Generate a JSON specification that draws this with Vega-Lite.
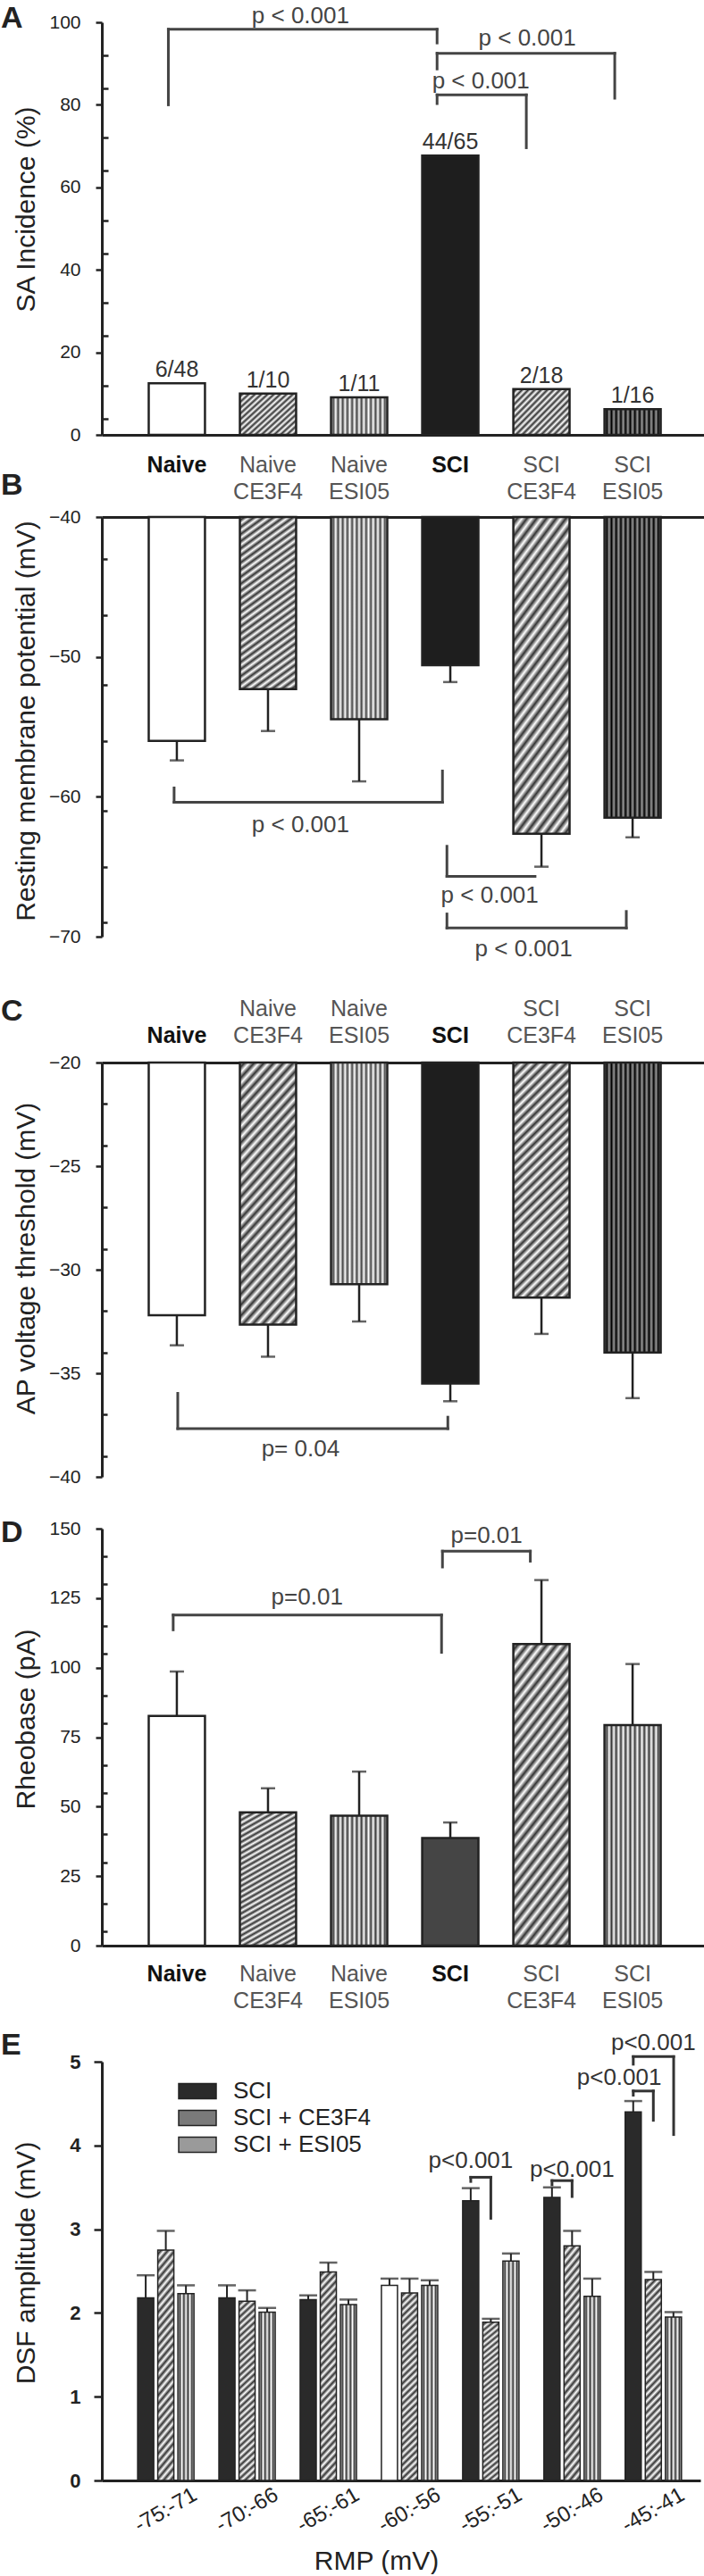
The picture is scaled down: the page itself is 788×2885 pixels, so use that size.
{
"$schema":"https://vega.github.io/schema/vega-lite/v6.json",
"padding":{"top":3,"left":0,"right":0,"bottom":0},
"autosize":{"type":"pad"},
"background":"#ffffff",
"config":{
 "font":"Liberation Sans",
 "view":{"stroke":null},
 "axis":{"grid":false,"domainColor":"#222222","domainWidth":3,"tickColor":"#222222","tickWidth":2.5,"labelFont":"Liberation Sans","labelFontSize":21,"labelColor":"#222222","titleFont":"Liberation Sans","titleFontSize":30,"titleFontWeight":"normal","titleColor":"#222222","labelOverlap":false,"labelFlush":false,"labelBound":false},
 "text":{"font":"Liberation Sans"}
},
"datasets":{
 "a":[{"group":"Naive","value":12.5,"frac":"6/48"},{"group":"Naive CE3F4","value":10,"frac":"1/10"},{"group":"Naive ESI05","value":9.09,"frac":"1/11"},{"group":"SCI","value":67.7,"frac":"44/65"},{"group":"SCI CE3F4","value":11.1,"frac":"2/18"},{"group":"SCI ESI05","value":6.25,"frac":"1/16"}],
 "b":[{"group":"Naive","value":-56.0,"err":-57.4},{"group":"Naive CE3F4","value":-52.3,"err":-55.3},{"group":"Naive ESI05","value":-54.45,"err":-58.9},{"group":"SCI","value":-50.6,"err":-51.8},{"group":"SCI CE3F4","value":-62.65,"err":-65.0},{"group":"SCI ESI05","value":-61.5,"err":-62.9}],
 "c":[{"group":"Naive","value":-32.2,"err":-33.65},{"group":"Naive CE3F4","value":-32.65,"err":-34.2},{"group":"Naive ESI05","value":-30.7,"err":-32.5},{"group":"SCI","value":-35.5,"err":-36.35},{"group":"SCI CE3F4","value":-31.35,"err":-33.1},{"group":"SCI ESI05","value":-34.0,"err":-36.2}],
 "d":[{"group":"Naive","value":82.6,"err":98.6},{"group":"Naive CE3F4","value":47.9,"err":56.6},{"group":"Naive ESI05","value":46.7,"err":62.6},{"group":"SCI","value":38.7,"err":44.3},{"group":"SCI CE3F4","value":108.5,"err":131.5},{"group":"SCI ESI05","value":79.3,"err":101.3}],
 "e":[
  {"rmp":"-75:-71","series":"SCI","value":2.18,"err":2.45},
  {"rmp":"-75:-71","series":"SCI + CE3F4","value":2.75,"err":2.98},
  {"rmp":"-75:-71","series":"SCI + ESI05","value":2.23,"err":2.33},
  {"rmp":"-70:-66","series":"SCI","value":2.18,"err":2.33},
  {"rmp":"-70:-66","series":"SCI + CE3F4","value":2.14,"err":2.27},
  {"rmp":"-70:-66","series":"SCI + ESI05","value":2.01,"err":2.06},
  {"rmp":"-65:-61","series":"SCI","value":2.16,"err":2.21},
  {"rmp":"-65:-61","series":"SCI + CE3F4","value":2.49,"err":2.6},
  {"rmp":"-65:-61","series":"SCI + ESI05","value":2.1,"err":2.16},
  {"rmp":"-60:-56","series":"SCI","value":2.33,"err":2.41},
  {"rmp":"-60:-56","series":"SCI + CE3F4","value":2.24,"err":2.41},
  {"rmp":"-60:-56","series":"SCI + ESI05","value":2.33,"err":2.39},
  {"rmp":"-55:-51","series":"SCI","value":3.34,"err":3.49},
  {"rmp":"-55:-51","series":"SCI + CE3F4","value":1.89,"err":1.93},
  {"rmp":"-55:-51","series":"SCI + ESI05","value":2.62,"err":2.71},
  {"rmp":"-50:-46","series":"SCI","value":3.38,"err":3.5},
  {"rmp":"-50:-46","series":"SCI + CE3F4","value":2.8,"err":2.98},
  {"rmp":"-50:-46","series":"SCI + ESI05","value":2.2,"err":2.41},
  {"rmp":"-45:-41","series":"SCI","value":4.4,"err":4.53},
  {"rmp":"-45:-41","series":"SCI + CE3F4","value":2.4,"err":2.49},
  {"rmp":"-45:-41","series":"SCI + ESI05","value":1.95,"err":2.01}
 ],
 "annA":[{"xa":0.907,"xb":3.855,"yh":98.3,"ya":80,"yb":95,"label":"p < 0.001","tx":2.357,"ty":99.8},{"xa":3.855,"xb":5.804,"yh":92.5,"ya":88.7,"yb":81.6,"label":"p < 0.001","tx":4.844,"ty":94.4},{"xa":3.855,"xb":4.834,"yh":82.4,"ya":80.3,"yb":69.6,"label":"p < 0.001","tx":4.335,"ty":83.9},{"letter":"A","lx":-0.93,"ly":104.6}],
 "annB":[{"xa":0.97,"xb":3.914,"yh":-60.39,"ya":-59.37,"yb":-58.16,"label":"p < 0.001","tx":2.357,"ty":-62.55},{"xa":3.963,"xb":4.928,"yh":-65.69,"ya":-63.54,"yb":-65.69,"label":"p < 0.001","tx":4.433,"ty":-67.58},{"xa":3.963,"xb":5.931,"yh":-69.38,"ya":-68.38,"yb":-68.2,"label":"p < 0.001","tx":4.805,"ty":-71.42},{"letter":"B","lx":-0.93,"ly":-36.65}],
 "annC":[{"xa":1.01,"xb":3.973,"yh":-37.67,"ya":-35.97,"yb":-37.12,"label":"p= 0.04","tx":2.357,"ty":-38.99},{"letter":"C","lx":-0.93,"ly":-16.83}],
 "annD":[{"xa":0.96,"xb":3.904,"yh":118.9,"ya":113.6,"yb":105.5,"label":"p=0.01","tx":2.429,"ty":122.8},{"xa":3.914,"xb":4.878,"yh":141.9,"ya":136.2,"yb":138.3,"label":"p=0.01","tx":4.398,"ty":144.9},{"letter":"D","lx":-0.93,"ly":154.0}],
 "annE":[{"xa":4.753,"xb":5.0,"yh":3.62,"ya":3.57,"yb":3.13,"label":"p<0.001","tx":4.753,"ty":3.73},{"xa":5.753,"xb":6.0,"yh":3.58,"ya":3.53,"yb":3.39,"label":"p<0.001","tx":6.0,"ty":3.63},{"xa":6.753,"xb":7.0,"yh":4.65,"ya":4.6,"yb":4.3,"label":"p<0.001","tx":6.58,"ty":4.72},{"xa":6.753,"xb":7.25,"yh":5.06,"ya":4.97,"yb":4.13,"label":"p<0.001","tx":7.0,"ty":5.14},{"letter":"E","lx":-1.03,"ly":5.368}]
},
"vconcat":[
 {
  "width":674,"height":462,
  "layer":[
   {"data":{"name":"a"},"layer":[
    {"mark":{"type":"bar","stroke":"#222222","strokeWidth":2.5},
     "encoding":{
      "x":{"field":"group","type":"nominal","sort":null,"scale":{"paddingInner":0.383,"paddingOuter":0.4946,"align":0.52},
           "axis":{"title":null,"orient":"bottom","ticks":false,"tickSize":0,"domain":true,"labelExpr":"split(datum.label, ' ')","labelFontSize":25,"labelLineHeight":30,"labelBaseline":"alphabetic","labelPadding":41,"labelAngle":0,"labelOverlap":false,
                   "labelFontWeight":{"condition":{"test":"indexof(datum.value, ' ') < 0","value":"bold"},"value":"normal"},
                   "labelColor":{"condition":{"test":"indexof(datum.value, ' ') < 0","value":"#111111"},"value":"#555555"}}},
      "y":{"field":"value","type":"quantitative","scale":{"domain":[0,100],"nice":false,"zero":false},
           "axis":{"title":"SA Incidence  (%)","orient":"left","values":[0,20,40,60,80,100],"format":"d","labelOverlap":false,"tickSize":7,"labelPadding":17,"titleX":-76,"titleY":209,"titleBaseline":"alphabetic"}},
      "fill":{"condition":[
        {"test":"indexof(datum.group, 'CE3F4') >= 0","value":{"gradient":"linear","x1":0,"y1":0,"x2":1.098,"y2":0.878,"stops":[{"offset":0,"color":"#ffffff"},{"offset":0.0313,"color":"#333333"},{"offset":0.0625,"color":"#ffffff"},{"offset":0.0938,"color":"#333333"},{"offset":0.125,"color":"#ffffff"},{"offset":0.1563,"color":"#333333"},{"offset":0.1875,"color":"#ffffff"},{"offset":0.2188,"color":"#333333"},{"offset":0.25,"color":"#ffffff"},{"offset":0.2813,"color":"#333333"},{"offset":0.3125,"color":"#ffffff"},{"offset":0.3438,"color":"#333333"},{"offset":0.375,"color":"#ffffff"},{"offset":0.4063,"color":"#333333"},{"offset":0.4375,"color":"#ffffff"},{"offset":0.4688,"color":"#333333"},{"offset":0.5,"color":"#ffffff"},{"offset":0.5313,"color":"#333333"},{"offset":0.5625,"color":"#ffffff"},{"offset":0.5938,"color":"#333333"},{"offset":0.625,"color":"#ffffff"},{"offset":0.6563,"color":"#333333"},{"offset":0.6875,"color":"#ffffff"},{"offset":0.7188,"color":"#333333"},{"offset":0.75,"color":"#ffffff"},{"offset":0.7813,"color":"#333333"},{"offset":0.8125,"color":"#ffffff"},{"offset":0.8438,"color":"#333333"},{"offset":0.875,"color":"#ffffff"},{"offset":0.9063,"color":"#333333"},{"offset":0.9375,"color":"#ffffff"},{"offset":0.9688,"color":"#333333"},{"offset":1,"color":"#ffffff"}]}},
        {"test":"datum.group === 'Naive ESI05'","value":{"gradient":"linear","x1":0,"y1":0,"x2":1,"y2":0,"stops":[{"offset":0,"color":"#ffffff"},{"offset":0.0417,"color":"#444444"},{"offset":0.0833,"color":"#ffffff"},{"offset":0.125,"color":"#444444"},{"offset":0.1667,"color":"#ffffff"},{"offset":0.2083,"color":"#444444"},{"offset":0.25,"color":"#ffffff"},{"offset":0.2917,"color":"#444444"},{"offset":0.3333,"color":"#ffffff"},{"offset":0.375,"color":"#444444"},{"offset":0.4167,"color":"#ffffff"},{"offset":0.4583,"color":"#444444"},{"offset":0.5,"color":"#ffffff"},{"offset":0.5417,"color":"#444444"},{"offset":0.5833,"color":"#ffffff"},{"offset":0.625,"color":"#444444"},{"offset":0.6667,"color":"#ffffff"},{"offset":0.7083,"color":"#444444"},{"offset":0.75,"color":"#ffffff"},{"offset":0.7917,"color":"#444444"},{"offset":0.8333,"color":"#ffffff"},{"offset":0.875,"color":"#444444"},{"offset":0.9167,"color":"#ffffff"},{"offset":0.9583,"color":"#444444"},{"offset":1,"color":"#ffffff"}]}},
        {"test":"datum.group === 'SCI ESI05'","value":{"gradient":"linear","x1":0,"y1":0,"x2":1,"y2":0,"stops":[{"offset":0,"color":"#999999"},{"offset":0.0417,"color":"#000000"},{"offset":0.0833,"color":"#999999"},{"offset":0.125,"color":"#000000"},{"offset":0.1667,"color":"#999999"},{"offset":0.2083,"color":"#000000"},{"offset":0.25,"color":"#999999"},{"offset":0.2917,"color":"#000000"},{"offset":0.3333,"color":"#999999"},{"offset":0.375,"color":"#000000"},{"offset":0.4167,"color":"#999999"},{"offset":0.4583,"color":"#000000"},{"offset":0.5,"color":"#999999"},{"offset":0.5417,"color":"#000000"},{"offset":0.5833,"color":"#999999"},{"offset":0.625,"color":"#000000"},{"offset":0.6667,"color":"#999999"},{"offset":0.7083,"color":"#000000"},{"offset":0.75,"color":"#999999"},{"offset":0.7917,"color":"#000000"},{"offset":0.8333,"color":"#999999"},{"offset":0.875,"color":"#000000"},{"offset":0.9167,"color":"#999999"},{"offset":0.9583,"color":"#000000"},{"offset":1,"color":"#999999"}]}},
        {"test":"datum.group === 'SCI'","value":"#1e1e1e"}
       ],"value":"#ffffff"}
     }},
    {"mark":{"type":"text","dy":-7,"fontSize":25,"color":"#333333","baseline":"alphabetic"},
     "encoding":{"x":{"field":"group","type":"nominal","sort":null},"y":{"field":"value","type":"quantitative"},"text":{"field":"frac"}}}
   ]},
   {"data":{"name":"annA"},"layer":[
    {"mark":{"type":"rule","stroke":"#444444","strokeWidth":3,"strokeCap":"square"},"encoding":{"x":{"field":"xa","type":"quantitative","scale":{"domain":[0.1773,6.7833],"nice":false,"zero":false},"axis":null},"x2":{"field":"xb"},"y":{"field":"yh","type":"quantitative","axis":{"orient":"left","title":null,"labels":false,"domain":false,"grid":false,"tickSize":-7,"values":[4,8,12,16,24,28,32,36,44,48,52,56,64,68,72,76,84,88,92,96]}}}},
    {"mark":{"type":"rule","stroke":"#444444","strokeWidth":3,"strokeCap":"square"},"encoding":{"x":{"field":"xa","type":"quantitative","scale":{"domain":[0.1773,6.7833],"nice":false,"zero":false},"axis":null},"y":{"field":"yh","type":"quantitative"},"y2":{"field":"ya"}}},
    {"mark":{"type":"rule","stroke":"#444444","strokeWidth":3,"strokeCap":"square"},"encoding":{"x":{"field":"xb","type":"quantitative","scale":{"domain":[0.1773,6.7833],"nice":false,"zero":false},"axis":null},"y":{"field":"yh","type":"quantitative"},"y2":{"field":"yb"}}},
    {"mark":{"type":"text","fontSize":26,"color":"#444444","baseline":"alphabetic","align":"center"},"encoding":{"x":{"field":"tx","type":"quantitative","scale":{"domain":[0.1773,6.7833],"nice":false,"zero":false},"axis":null},"y":{"field":"ty","type":"quantitative"},"text":{"field":"label"}}},
    {"mark":{"type":"text","fontSize":34,"fontWeight":"bold","color":"#222222","baseline":"top","align":"left"},"encoding":{"x":{"field":"lx","type":"quantitative","scale":{"domain":[0.1773,6.7833],"nice":false,"zero":false},"axis":null},"y":{"field":"ly","type":"quantitative"},"text":{"field":"letter"}}}
   ]}
  ],
  "resolve":{"scale":{"x":"independent"},"axis":{"y":"independent"}}
 },
 {
  "vconcat":[
   {
    "width":674,"height":470,
    "layer":[
     {"data":{"name":"b"},"layer":[
      {"mark":{"type":"bar","stroke":"#222222","strokeWidth":2.5},
       "encoding":{
        "x":{"field":"group","type":"nominal","sort":null,"scale":{"paddingInner":0.383,"paddingOuter":0.4946,"align":0.52},
             "axis":{"title":null,"orient":"top","ticks":false,"tickSize":0,"labels":false,"domain":true}},
        "y":{"field":"value","type":"quantitative","scale":{"domain":[-70,-40],"nice":false,"zero":false},
             "axis":{"title":"Resting membrane potential (mV)","orient":"left","values":[-70,-60,-50,-40],"format":"d","labelOverlap":false,"tickSize":7,"labelPadding":17,"titleX":-76,"titleY":228,"titleBaseline":"alphabetic"}},
        "y2":{"datum":-40},
        "fill":{"condition":[
          {"test":"indexof(datum.group, 'CE3F4') >= 0","value":{"gradient":"linear","x1":0,"y1":0,"x2":0.279,"y2":1.172,"stops":[{"offset":0,"color":"#ffffff"},{"offset":0.0167,"color":"#333333"},{"offset":0.0333,"color":"#ffffff"},{"offset":0.05,"color":"#333333"},{"offset":0.0667,"color":"#ffffff"},{"offset":0.0833,"color":"#333333"},{"offset":0.1,"color":"#ffffff"},{"offset":0.1167,"color":"#333333"},{"offset":0.1333,"color":"#ffffff"},{"offset":0.15,"color":"#333333"},{"offset":0.1667,"color":"#ffffff"},{"offset":0.1833,"color":"#333333"},{"offset":0.2,"color":"#ffffff"},{"offset":0.2167,"color":"#333333"},{"offset":0.2333,"color":"#ffffff"},{"offset":0.25,"color":"#333333"},{"offset":0.2667,"color":"#ffffff"},{"offset":0.2833,"color":"#333333"},{"offset":0.3,"color":"#ffffff"},{"offset":0.3167,"color":"#333333"},{"offset":0.3333,"color":"#ffffff"},{"offset":0.35,"color":"#333333"},{"offset":0.3667,"color":"#ffffff"},{"offset":0.3833,"color":"#333333"},{"offset":0.4,"color":"#ffffff"},{"offset":0.4167,"color":"#333333"},{"offset":0.4333,"color":"#ffffff"},{"offset":0.45,"color":"#333333"},{"offset":0.4667,"color":"#ffffff"},{"offset":0.4833,"color":"#333333"},{"offset":0.5,"color":"#ffffff"},{"offset":0.5167,"color":"#333333"},{"offset":0.5333,"color":"#ffffff"},{"offset":0.55,"color":"#333333"},{"offset":0.5667,"color":"#ffffff"},{"offset":0.5833,"color":"#333333"},{"offset":0.6,"color":"#ffffff"},{"offset":0.6167,"color":"#333333"},{"offset":0.6333,"color":"#ffffff"},{"offset":0.65,"color":"#333333"},{"offset":0.6667,"color":"#ffffff"},{"offset":0.6833,"color":"#333333"},{"offset":0.7,"color":"#ffffff"},{"offset":0.7167,"color":"#333333"},{"offset":0.7333,"color":"#ffffff"},{"offset":0.75,"color":"#333333"},{"offset":0.7667,"color":"#ffffff"},{"offset":0.7833,"color":"#333333"},{"offset":0.8,"color":"#ffffff"},{"offset":0.8167,"color":"#333333"},{"offset":0.8333,"color":"#ffffff"},{"offset":0.85,"color":"#333333"},{"offset":0.8667,"color":"#ffffff"},{"offset":0.8833,"color":"#333333"},{"offset":0.9,"color":"#ffffff"},{"offset":0.9167,"color":"#333333"},{"offset":0.9333,"color":"#ffffff"},{"offset":0.95,"color":"#333333"},{"offset":0.9667,"color":"#ffffff"},{"offset":0.9833,"color":"#333333"},{"offset":1,"color":"#ffffff"}]}},
          {"test":"datum.group === 'Naive ESI05'","value":{"gradient":"linear","x1":0,"y1":0,"x2":1,"y2":0,"stops":[{"offset":0,"color":"#ffffff"},{"offset":0.0417,"color":"#444444"},{"offset":0.0833,"color":"#ffffff"},{"offset":0.125,"color":"#444444"},{"offset":0.1667,"color":"#ffffff"},{"offset":0.2083,"color":"#444444"},{"offset":0.25,"color":"#ffffff"},{"offset":0.2917,"color":"#444444"},{"offset":0.3333,"color":"#ffffff"},{"offset":0.375,"color":"#444444"},{"offset":0.4167,"color":"#ffffff"},{"offset":0.4583,"color":"#444444"},{"offset":0.5,"color":"#ffffff"},{"offset":0.5417,"color":"#444444"},{"offset":0.5833,"color":"#ffffff"},{"offset":0.625,"color":"#444444"},{"offset":0.6667,"color":"#ffffff"},{"offset":0.7083,"color":"#444444"},{"offset":0.75,"color":"#ffffff"},{"offset":0.7917,"color":"#444444"},{"offset":0.8333,"color":"#ffffff"},{"offset":0.875,"color":"#444444"},{"offset":0.9167,"color":"#ffffff"},{"offset":0.9583,"color":"#444444"},{"offset":1,"color":"#ffffff"}]}},
          {"test":"datum.group === 'SCI ESI05'","value":{"gradient":"linear","x1":0,"y1":0,"x2":1,"y2":0,"stops":[{"offset":0,"color":"#999999"},{"offset":0.0417,"color":"#000000"},{"offset":0.0833,"color":"#999999"},{"offset":0.125,"color":"#000000"},{"offset":0.1667,"color":"#999999"},{"offset":0.2083,"color":"#000000"},{"offset":0.25,"color":"#999999"},{"offset":0.2917,"color":"#000000"},{"offset":0.3333,"color":"#999999"},{"offset":0.375,"color":"#000000"},{"offset":0.4167,"color":"#999999"},{"offset":0.4583,"color":"#000000"},{"offset":0.5,"color":"#999999"},{"offset":0.5417,"color":"#000000"},{"offset":0.5833,"color":"#999999"},{"offset":0.625,"color":"#000000"},{"offset":0.6667,"color":"#999999"},{"offset":0.7083,"color":"#000000"},{"offset":0.75,"color":"#999999"},{"offset":0.7917,"color":"#000000"},{"offset":0.8333,"color":"#999999"},{"offset":0.875,"color":"#000000"},{"offset":0.9167,"color":"#999999"},{"offset":0.9583,"color":"#000000"},{"offset":1,"color":"#999999"}]}},
          {"test":"datum.group === 'SCI'","value":"#1e1e1e"}
         ],"value":"#ffffff"}
       }},
      {"mark":{"type":"rule","stroke":"#222222","strokeWidth":2.5},"encoding":{"x":{"field":"group","type":"nominal","sort":null},"y":{"field":"value","type":"quantitative"},"y2":{"field":"err"}}},
      {"mark":{"type":"tick","color":"#222222","size":16,"thickness":2.5,"orient":"horizontal"},"encoding":{"x":{"field":"group","type":"nominal","sort":null},"y":{"field":"err","type":"quantitative"}}}
     ]},
     {"data":{"name":"annB"},"layer":[
      {"mark":{"type":"rule","stroke":"#444444","strokeWidth":3,"strokeCap":"square"},"encoding":{"x":{"field":"xa","type":"quantitative","scale":{"domain":[0.1773,6.7833],"nice":false,"zero":false},"axis":null},"x2":{"field":"xb"},"y":{"field":"yh","type":"quantitative","axis":{"orient":"left","title":null,"labels":false,"domain":false,"grid":false,"tickSize":-6,"values":[-69,-68,-67,-66,-65,-64,-63,-62,-61,-59,-58,-57,-56,-55,-54,-53,-52,-51,-49,-48,-47,-46,-45,-44,-43,-42,-41]}}}},
      {"mark":{"type":"rule","stroke":"#444444","strokeWidth":3,"strokeCap":"square"},"encoding":{"x":{"field":"xa","type":"quantitative","scale":{"domain":[0.1773,6.7833],"nice":false,"zero":false},"axis":null},"y":{"field":"yh","type":"quantitative"},"y2":{"field":"ya"}}},
      {"mark":{"type":"rule","stroke":"#444444","strokeWidth":3,"strokeCap":"square"},"encoding":{"x":{"field":"xb","type":"quantitative","scale":{"domain":[0.1773,6.7833],"nice":false,"zero":false},"axis":null},"y":{"field":"yh","type":"quantitative"},"y2":{"field":"yb"}}},
      {"mark":{"type":"text","fontSize":26,"color":"#444444","baseline":"alphabetic","align":"center"},"encoding":{"x":{"field":"tx","type":"quantitative","scale":{"domain":[0.1773,6.7833],"nice":false,"zero":false},"axis":null},"y":{"field":"ty","type":"quantitative"},"text":{"field":"label"}}},
      {"mark":{"type":"text","fontSize":34,"fontWeight":"bold","color":"#222222","baseline":"top","align":"left"},"encoding":{"x":{"field":"lx","type":"quantitative","scale":{"domain":[0.1773,6.7833],"nice":false,"zero":false},"axis":null},"y":{"field":"ly","type":"quantitative"},"text":{"field":"letter"}}}
     ]}
    ],
    "resolve":{"scale":{"x":"independent"},"axis":{"y":"independent"}}
   },
   {
    "vconcat":[
     {
      "width":674,"height":464,
      "layer":[
       {"data":{"name":"c"},"layer":[
        {"mark":{"type":"bar","stroke":"#222222","strokeWidth":2.5},
         "encoding":{
          "x":{"field":"group","type":"nominal","sort":null,"scale":{"paddingInner":0.383,"paddingOuter":0.4946,"align":0.52},
               "axis":{"title":null,"orient":"top","ticks":false,"tickSize":0,"domain":true,"labelExpr":"indexof(datum.label, ' ') < 0 ? ['', datum.label] : split(datum.label, ' ')","labelFontSize":25,"labelLineHeight":30,"labelBaseline":"alphabetic","labelPadding":53,"labelAngle":0,"labelOverlap":false,
                       "labelFontWeight":{"condition":{"test":"indexof(datum.value, ' ') < 0","value":"bold"},"value":"normal"},
                       "labelColor":{"condition":{"test":"indexof(datum.value, ' ') < 0","value":"#111111"},"value":"#555555"}}},
          "y":{"field":"value","type":"quantitative","scale":{"domain":[-40,-20],"nice":false,"zero":false},
               "axis":{"title":"AP voltage threshold (mV)","orient":"left","values":[-40,-35,-30,-25,-20],"format":"d","labelOverlap":false,"tickSize":7,"labelPadding":17,"titleX":-76,"titleY":219,"titleBaseline":"alphabetic"}},
          "y2":{"datum":-20},
          "fill":{"condition":[
            {"test":"indexof(datum.group, 'CE3F4') >= 0","value":{"gradient":"linear","x1":0,"y1":0,"x2":0.279,"y2":1.172,"stops":[{"offset":0,"color":"#ffffff"},{"offset":0.0167,"color":"#333333"},{"offset":0.0333,"color":"#ffffff"},{"offset":0.05,"color":"#333333"},{"offset":0.0667,"color":"#ffffff"},{"offset":0.0833,"color":"#333333"},{"offset":0.1,"color":"#ffffff"},{"offset":0.1167,"color":"#333333"},{"offset":0.1333,"color":"#ffffff"},{"offset":0.15,"color":"#333333"},{"offset":0.1667,"color":"#ffffff"},{"offset":0.1833,"color":"#333333"},{"offset":0.2,"color":"#ffffff"},{"offset":0.2167,"color":"#333333"},{"offset":0.2333,"color":"#ffffff"},{"offset":0.25,"color":"#333333"},{"offset":0.2667,"color":"#ffffff"},{"offset":0.2833,"color":"#333333"},{"offset":0.3,"color":"#ffffff"},{"offset":0.3167,"color":"#333333"},{"offset":0.3333,"color":"#ffffff"},{"offset":0.35,"color":"#333333"},{"offset":0.3667,"color":"#ffffff"},{"offset":0.3833,"color":"#333333"},{"offset":0.4,"color":"#ffffff"},{"offset":0.4167,"color":"#333333"},{"offset":0.4333,"color":"#ffffff"},{"offset":0.45,"color":"#333333"},{"offset":0.4667,"color":"#ffffff"},{"offset":0.4833,"color":"#333333"},{"offset":0.5,"color":"#ffffff"},{"offset":0.5167,"color":"#333333"},{"offset":0.5333,"color":"#ffffff"},{"offset":0.55,"color":"#333333"},{"offset":0.5667,"color":"#ffffff"},{"offset":0.5833,"color":"#333333"},{"offset":0.6,"color":"#ffffff"},{"offset":0.6167,"color":"#333333"},{"offset":0.6333,"color":"#ffffff"},{"offset":0.65,"color":"#333333"},{"offset":0.6667,"color":"#ffffff"},{"offset":0.6833,"color":"#333333"},{"offset":0.7,"color":"#ffffff"},{"offset":0.7167,"color":"#333333"},{"offset":0.7333,"color":"#ffffff"},{"offset":0.75,"color":"#333333"},{"offset":0.7667,"color":"#ffffff"},{"offset":0.7833,"color":"#333333"},{"offset":0.8,"color":"#ffffff"},{"offset":0.8167,"color":"#333333"},{"offset":0.8333,"color":"#ffffff"},{"offset":0.85,"color":"#333333"},{"offset":0.8667,"color":"#ffffff"},{"offset":0.8833,"color":"#333333"},{"offset":0.9,"color":"#ffffff"},{"offset":0.9167,"color":"#333333"},{"offset":0.9333,"color":"#ffffff"},{"offset":0.95,"color":"#333333"},{"offset":0.9667,"color":"#ffffff"},{"offset":0.9833,"color":"#333333"},{"offset":1,"color":"#ffffff"}]}},
            {"test":"datum.group === 'Naive ESI05'","value":{"gradient":"linear","x1":0,"y1":0,"x2":1,"y2":0,"stops":[{"offset":0,"color":"#ffffff"},{"offset":0.0417,"color":"#444444"},{"offset":0.0833,"color":"#ffffff"},{"offset":0.125,"color":"#444444"},{"offset":0.1667,"color":"#ffffff"},{"offset":0.2083,"color":"#444444"},{"offset":0.25,"color":"#ffffff"},{"offset":0.2917,"color":"#444444"},{"offset":0.3333,"color":"#ffffff"},{"offset":0.375,"color":"#444444"},{"offset":0.4167,"color":"#ffffff"},{"offset":0.4583,"color":"#444444"},{"offset":0.5,"color":"#ffffff"},{"offset":0.5417,"color":"#444444"},{"offset":0.5833,"color":"#ffffff"},{"offset":0.625,"color":"#444444"},{"offset":0.6667,"color":"#ffffff"},{"offset":0.7083,"color":"#444444"},{"offset":0.75,"color":"#ffffff"},{"offset":0.7917,"color":"#444444"},{"offset":0.8333,"color":"#ffffff"},{"offset":0.875,"color":"#444444"},{"offset":0.9167,"color":"#ffffff"},{"offset":0.9583,"color":"#444444"},{"offset":1,"color":"#ffffff"}]}},
            {"test":"datum.group === 'SCI ESI05'","value":{"gradient":"linear","x1":0,"y1":0,"x2":1,"y2":0,"stops":[{"offset":0,"color":"#999999"},{"offset":0.0417,"color":"#000000"},{"offset":0.0833,"color":"#999999"},{"offset":0.125,"color":"#000000"},{"offset":0.1667,"color":"#999999"},{"offset":0.2083,"color":"#000000"},{"offset":0.25,"color":"#999999"},{"offset":0.2917,"color":"#000000"},{"offset":0.3333,"color":"#999999"},{"offset":0.375,"color":"#000000"},{"offset":0.4167,"color":"#999999"},{"offset":0.4583,"color":"#000000"},{"offset":0.5,"color":"#999999"},{"offset":0.5417,"color":"#000000"},{"offset":0.5833,"color":"#999999"},{"offset":0.625,"color":"#000000"},{"offset":0.6667,"color":"#999999"},{"offset":0.7083,"color":"#000000"},{"offset":0.75,"color":"#999999"},{"offset":0.7917,"color":"#000000"},{"offset":0.8333,"color":"#999999"},{"offset":0.875,"color":"#000000"},{"offset":0.9167,"color":"#999999"},{"offset":0.9583,"color":"#000000"},{"offset":1,"color":"#999999"}]}},
            {"test":"datum.group === 'SCI'","value":"#1e1e1e"}
           ],"value":"#ffffff"}
         }},
        {"mark":{"type":"rule","stroke":"#222222","strokeWidth":2.5},"encoding":{"x":{"field":"group","type":"nominal","sort":null},"y":{"field":"value","type":"quantitative"},"y2":{"field":"err"}}},
        {"mark":{"type":"tick","color":"#222222","size":16,"thickness":2.5,"orient":"horizontal"},"encoding":{"x":{"field":"group","type":"nominal","sort":null},"y":{"field":"err","type":"quantitative"}}}
       ]},
       {"data":{"name":"annC"},"layer":[
        {"mark":{"type":"rule","stroke":"#444444","strokeWidth":3,"strokeCap":"square"},"encoding":{"x":{"field":"xa","type":"quantitative","scale":{"domain":[0.1773,6.7833],"nice":false,"zero":false},"axis":null},"x2":{"field":"xb"},"y":{"field":"yh","type":"quantitative","axis":{"orient":"left","title":null,"labels":false,"domain":false,"grid":false,"tickSize":-6,"values":[-39,-38,-37,-36,-34,-33,-32,-31,-29,-28,-27,-26,-24,-23,-22,-21]}}}},
        {"mark":{"type":"rule","stroke":"#444444","strokeWidth":3,"strokeCap":"square"},"encoding":{"x":{"field":"xa","type":"quantitative","scale":{"domain":[0.1773,6.7833],"nice":false,"zero":false},"axis":null},"y":{"field":"yh","type":"quantitative"},"y2":{"field":"ya"}}},
        {"mark":{"type":"rule","stroke":"#444444","strokeWidth":3,"strokeCap":"square"},"encoding":{"x":{"field":"xb","type":"quantitative","scale":{"domain":[0.1773,6.7833],"nice":false,"zero":false},"axis":null},"y":{"field":"yh","type":"quantitative"},"y2":{"field":"yb"}}},
        {"mark":{"type":"text","fontSize":26,"color":"#444444","baseline":"alphabetic","align":"center"},"encoding":{"x":{"field":"tx","type":"quantitative","scale":{"domain":[0.1773,6.7833],"nice":false,"zero":false},"axis":null},"y":{"field":"ty","type":"quantitative"},"text":{"field":"label"}}},
        {"mark":{"type":"text","fontSize":34,"fontWeight":"bold","color":"#222222","baseline":"top","align":"left"},"encoding":{"x":{"field":"lx","type":"quantitative","scale":{"domain":[0.1773,6.7833],"nice":false,"zero":false},"axis":null},"y":{"field":"ly","type":"quantitative"},"text":{"field":"letter"}}}
       ]}
      ],
      "resolve":{"scale":{"x":"independent"},"axis":{"y":"independent"}}
     },
     {
      "vconcat":[
       {
        "width":674,"height":467,
        "layer":[
         {"data":{"name":"d"},"layer":[
          {"mark":{"type":"bar","stroke":"#222222","strokeWidth":2.5},
           "encoding":{
            "x":{"field":"group","type":"nominal","sort":null,"scale":{"paddingInner":0.383,"paddingOuter":0.4946,"align":0.52},
                 "axis":{"title":null,"orient":"bottom","ticks":false,"tickSize":0,"domain":true,"labelExpr":"split(datum.label, ' ')","labelFontSize":25,"labelLineHeight":30,"labelBaseline":"alphabetic","labelPadding":39,"labelAngle":0,"labelOverlap":false,
                         "labelFontWeight":{"condition":{"test":"indexof(datum.value, ' ') < 0","value":"bold"},"value":"normal"},
                         "labelColor":{"condition":{"test":"indexof(datum.value, ' ') < 0","value":"#111111"},"value":"#555555"}}},
            "y":{"field":"value","type":"quantitative","scale":{"domain":[0,150],"nice":false,"zero":false},
                 "axis":{"title":"Rheobase (pA)","orient":"left","values":[0,25,50,75,100,125,150],"format":"d","labelOverlap":false,"tickSize":7,"labelPadding":17,"titleX":-76,"titleY":213,"titleBaseline":"alphabetic"}},
            "fill":{"condition":[
              {"test":"indexof(datum.group, 'CE3F4') >= 0","value":{"gradient":"linear","x1":0,"y1":0,"x2":0.279,"y2":1.172,"stops":[{"offset":0,"color":"#ffffff"},{"offset":0.0167,"color":"#333333"},{"offset":0.0333,"color":"#ffffff"},{"offset":0.05,"color":"#333333"},{"offset":0.0667,"color":"#ffffff"},{"offset":0.0833,"color":"#333333"},{"offset":0.1,"color":"#ffffff"},{"offset":0.1167,"color":"#333333"},{"offset":0.1333,"color":"#ffffff"},{"offset":0.15,"color":"#333333"},{"offset":0.1667,"color":"#ffffff"},{"offset":0.1833,"color":"#333333"},{"offset":0.2,"color":"#ffffff"},{"offset":0.2167,"color":"#333333"},{"offset":0.2333,"color":"#ffffff"},{"offset":0.25,"color":"#333333"},{"offset":0.2667,"color":"#ffffff"},{"offset":0.2833,"color":"#333333"},{"offset":0.3,"color":"#ffffff"},{"offset":0.3167,"color":"#333333"},{"offset":0.3333,"color":"#ffffff"},{"offset":0.35,"color":"#333333"},{"offset":0.3667,"color":"#ffffff"},{"offset":0.3833,"color":"#333333"},{"offset":0.4,"color":"#ffffff"},{"offset":0.4167,"color":"#333333"},{"offset":0.4333,"color":"#ffffff"},{"offset":0.45,"color":"#333333"},{"offset":0.4667,"color":"#ffffff"},{"offset":0.4833,"color":"#333333"},{"offset":0.5,"color":"#ffffff"},{"offset":0.5167,"color":"#333333"},{"offset":0.5333,"color":"#ffffff"},{"offset":0.55,"color":"#333333"},{"offset":0.5667,"color":"#ffffff"},{"offset":0.5833,"color":"#333333"},{"offset":0.6,"color":"#ffffff"},{"offset":0.6167,"color":"#333333"},{"offset":0.6333,"color":"#ffffff"},{"offset":0.65,"color":"#333333"},{"offset":0.6667,"color":"#ffffff"},{"offset":0.6833,"color":"#333333"},{"offset":0.7,"color":"#ffffff"},{"offset":0.7167,"color":"#333333"},{"offset":0.7333,"color":"#ffffff"},{"offset":0.75,"color":"#333333"},{"offset":0.7667,"color":"#ffffff"},{"offset":0.7833,"color":"#333333"},{"offset":0.8,"color":"#ffffff"},{"offset":0.8167,"color":"#333333"},{"offset":0.8333,"color":"#ffffff"},{"offset":0.85,"color":"#333333"},{"offset":0.8667,"color":"#ffffff"},{"offset":0.8833,"color":"#333333"},{"offset":0.9,"color":"#ffffff"},{"offset":0.9167,"color":"#333333"},{"offset":0.9333,"color":"#ffffff"},{"offset":0.95,"color":"#333333"},{"offset":0.9667,"color":"#ffffff"},{"offset":0.9833,"color":"#333333"},{"offset":1,"color":"#ffffff"}]}},
              {"test":"indexof(datum.group, 'ESI05') >= 0","value":{"gradient":"linear","x1":0,"y1":0,"x2":1,"y2":0,"stops":[{"offset":0,"color":"#ffffff"},{"offset":0.0417,"color":"#383838"},{"offset":0.0833,"color":"#ffffff"},{"offset":0.125,"color":"#383838"},{"offset":0.1667,"color":"#ffffff"},{"offset":0.2083,"color":"#383838"},{"offset":0.25,"color":"#ffffff"},{"offset":0.2917,"color":"#383838"},{"offset":0.3333,"color":"#ffffff"},{"offset":0.375,"color":"#383838"},{"offset":0.4167,"color":"#ffffff"},{"offset":0.4583,"color":"#383838"},{"offset":0.5,"color":"#ffffff"},{"offset":0.5417,"color":"#383838"},{"offset":0.5833,"color":"#ffffff"},{"offset":0.625,"color":"#383838"},{"offset":0.6667,"color":"#ffffff"},{"offset":0.7083,"color":"#383838"},{"offset":0.75,"color":"#ffffff"},{"offset":0.7917,"color":"#383838"},{"offset":0.8333,"color":"#ffffff"},{"offset":0.875,"color":"#383838"},{"offset":0.9167,"color":"#ffffff"},{"offset":0.9583,"color":"#383838"},{"offset":1,"color":"#ffffff"}]}},
              {"test":"datum.group === 'SCI'","value":"#454545"}
             ],"value":"#ffffff"}
           }},
          {"mark":{"type":"rule","stroke":"#222222","strokeWidth":2.5},"encoding":{"x":{"field":"group","type":"nominal","sort":null},"y":{"field":"value","type":"quantitative"},"y2":{"field":"err"}}},
          {"mark":{"type":"tick","color":"#222222","size":16,"thickness":2.5,"orient":"horizontal"},"encoding":{"x":{"field":"group","type":"nominal","sort":null},"y":{"field":"err","type":"quantitative"}}}
         ]},
         {"data":{"name":"annD"},"layer":[
          {"mark":{"type":"rule","stroke":"#444444","strokeWidth":3,"strokeCap":"square"},"encoding":{"x":{"field":"xa","type":"quantitative","scale":{"domain":[0.1773,6.7833],"nice":false,"zero":false},"axis":null},"x2":{"field":"xb"},"y":{"field":"yh","type":"quantitative","axis":{"orient":"left","title":null,"labels":false,"domain":false,"grid":false,"tickSize":-6,"values":[5,10,15,20,30,35,40,45,55,60,65,70,80,85,90,95,105,110,115,120,130,135,140,145]}}}},
          {"mark":{"type":"rule","stroke":"#444444","strokeWidth":3,"strokeCap":"square"},"encoding":{"x":{"field":"xa","type":"quantitative","scale":{"domain":[0.1773,6.7833],"nice":false,"zero":false},"axis":null},"y":{"field":"yh","type":"quantitative"},"y2":{"field":"ya"}}},
          {"mark":{"type":"rule","stroke":"#444444","strokeWidth":3,"strokeCap":"square"},"encoding":{"x":{"field":"xb","type":"quantitative","scale":{"domain":[0.1773,6.7833],"nice":false,"zero":false},"axis":null},"y":{"field":"yh","type":"quantitative"},"y2":{"field":"yb"}}},
          {"mark":{"type":"text","fontSize":26,"color":"#444444","baseline":"alphabetic","align":"center"},"encoding":{"x":{"field":"tx","type":"quantitative","scale":{"domain":[0.1773,6.7833],"nice":false,"zero":false},"axis":null},"y":{"field":"ty","type":"quantitative"},"text":{"field":"label"}}},
          {"mark":{"type":"text","fontSize":34,"fontWeight":"bold","color":"#222222","baseline":"top","align":"left"},"encoding":{"x":{"field":"lx","type":"quantitative","scale":{"domain":[0.1773,6.7833],"nice":false,"zero":false},"axis":null},"y":{"field":"ly","type":"quantitative"},"text":{"field":"letter"}}}
         ]}
        ],
        "resolve":{"scale":{"x":"independent"},"axis":{"y":"independent"}}
       },
       {
        "width":670,"height":469,
        "layer":[
         {"data":{"name":"e"},"layer":[
          {"mark":{"type":"bar","stroke":"#222222","strokeWidth":1.5},
           "encoding":{
            "x":{"field":"rmp","type":"nominal","sort":null,"scale":{"paddingInner":0.307,"paddingOuter":0.337,"align":0.654},
                 "axis":{"title":"RMP (mV)","ticks":false,"tickSize":0,"domain":true,"labelAngle":-30,"labelAlign":"center","labelBaseline":"middle","labelPadding":33,"labelFontSize":24,"labelOverlap":false,"titleFontSize":30,"titleX":307,"titleY":99,"titleBaseline":"alphabetic","titleAlign":"center"}},
            "xOffset":{"field":"series","type":"nominal","sort":null,"scale":{"paddingInner":0.2,"paddingOuter":0}},
            "y":{"field":"value","type":"quantitative","scale":{"domain":[0,5],"nice":false,"zero":false},
                 "axis":{"title":"DSF amplitude (mV)","values":[0,1,2,3,4,5],"format":"d","labelOverlap":false,"tickSize":9,"labelPadding":15,"labelFontSize":22,"labelFontWeight":"bold","titleX":-76,"titleY":225,"titleBaseline":"alphabetic"}},
            "fill":{"condition":[
                      {"test":"datum.rmp === '-60:-56' && datum.series === 'SCI'","value":"#ffffff"},
                      {"test":"datum.series === 'SCI + CE3F4'","value":{"gradient":"linear","x1":0,"y1":0,"x2":0.0897,"y2":1.076,"stops":[{"offset":0,"color":"#ffffff"},{"offset":0.0167,"color":"#333333"},{"offset":0.0333,"color":"#ffffff"},{"offset":0.05,"color":"#333333"},{"offset":0.0667,"color":"#ffffff"},{"offset":0.0833,"color":"#333333"},{"offset":0.1,"color":"#ffffff"},{"offset":0.1167,"color":"#333333"},{"offset":0.1333,"color":"#ffffff"},{"offset":0.15,"color":"#333333"},{"offset":0.1667,"color":"#ffffff"},{"offset":0.1833,"color":"#333333"},{"offset":0.2,"color":"#ffffff"},{"offset":0.2167,"color":"#333333"},{"offset":0.2333,"color":"#ffffff"},{"offset":0.25,"color":"#333333"},{"offset":0.2667,"color":"#ffffff"},{"offset":0.2833,"color":"#333333"},{"offset":0.3,"color":"#ffffff"},{"offset":0.3167,"color":"#333333"},{"offset":0.3333,"color":"#ffffff"},{"offset":0.35,"color":"#333333"},{"offset":0.3667,"color":"#ffffff"},{"offset":0.3833,"color":"#333333"},{"offset":0.4,"color":"#ffffff"},{"offset":0.4167,"color":"#333333"},{"offset":0.4333,"color":"#ffffff"},{"offset":0.45,"color":"#333333"},{"offset":0.4667,"color":"#ffffff"},{"offset":0.4833,"color":"#333333"},{"offset":0.5,"color":"#ffffff"},{"offset":0.5167,"color":"#333333"},{"offset":0.5333,"color":"#ffffff"},{"offset":0.55,"color":"#333333"},{"offset":0.5667,"color":"#ffffff"},{"offset":0.5833,"color":"#333333"},{"offset":0.6,"color":"#ffffff"},{"offset":0.6167,"color":"#333333"},{"offset":0.6333,"color":"#ffffff"},{"offset":0.65,"color":"#333333"},{"offset":0.6667,"color":"#ffffff"},{"offset":0.6833,"color":"#333333"},{"offset":0.7,"color":"#ffffff"},{"offset":0.7167,"color":"#333333"},{"offset":0.7333,"color":"#ffffff"},{"offset":0.75,"color":"#333333"},{"offset":0.7667,"color":"#ffffff"},{"offset":0.7833,"color":"#333333"},{"offset":0.8,"color":"#ffffff"},{"offset":0.8167,"color":"#333333"},{"offset":0.8333,"color":"#ffffff"},{"offset":0.85,"color":"#333333"},{"offset":0.8667,"color":"#ffffff"},{"offset":0.8833,"color":"#333333"},{"offset":0.9,"color":"#ffffff"},{"offset":0.9167,"color":"#333333"},{"offset":0.9333,"color":"#ffffff"},{"offset":0.95,"color":"#333333"},{"offset":0.9667,"color":"#ffffff"},{"offset":0.9833,"color":"#333333"},{"offset":1,"color":"#ffffff"}]}},
                      {"test":"datum.series === 'SCI + ESI05'","value":{"gradient":"linear","x1":0,"y1":0,"x2":1,"y2":0,"stops":[{"offset":0,"color":"#ffffff"},{"offset":0.125,"color":"#333333"},{"offset":0.25,"color":"#ffffff"},{"offset":0.375,"color":"#333333"},{"offset":0.5,"color":"#ffffff"},{"offset":0.625,"color":"#333333"},{"offset":0.75,"color":"#ffffff"},{"offset":0.875,"color":"#333333"},{"offset":1,"color":"#ffffff"}]}}
                    ],
                    "field":"series","type":"nominal","sort":null,
                    "scale":{"domain":["SCI","SCI + CE3F4","SCI + ESI05"],"range":["#2a2a2a","#7a7a7a","#9a9a9a"]},
                    "legend":{"title":null,"orient":"none","legendX":94,"legendY":20,"padding":0,"symbolType":"M-2.1,-0.85H2.1V0.85H-2.1Z","symbolSize":400,"symbolStrokeColor":"#222222","symbolStrokeWidth":1.5,"symbolOpacity":1,"labelFontSize":26,"labelFont":"Liberation Sans","labelColor":"#222222","labelOffset":27,"rowPadding":4}}
           }},
          {"mark":{"type":"rule","stroke":"#222222","strokeWidth":2},"encoding":{"x":{"field":"rmp","type":"nominal","sort":null},"xOffset":{"field":"series","type":"nominal","sort":null},"y":{"field":"value","type":"quantitative"},"y2":{"field":"err"}}},
          {"mark":{"type":"tick","color":"#222222","size":20,"thickness":2.5,"orient":"horizontal"},"encoding":{"x":{"field":"rmp","type":"nominal","sort":null},"xOffset":{"field":"series","type":"nominal","sort":null},"y":{"field":"err","type":"quantitative"}}}
         ]},
         {"data":{"name":"annE"},"layer":[
          {"mark":{"type":"rule","stroke":"#333333","strokeWidth":3,"strokeCap":"square"},"encoding":{"x":{"field":"xa","type":"quantitative","scale":{"domain":[0.2128,7.5795],"nice":false,"zero":false},"axis":null},"x2":{"field":"xb"},"y":{"field":"yh","type":"quantitative"}}},
          {"mark":{"type":"rule","stroke":"#333333","strokeWidth":3,"strokeCap":"square"},"encoding":{"x":{"field":"xa","type":"quantitative","scale":{"domain":[0.2128,7.5795],"nice":false,"zero":false},"axis":null},"y":{"field":"yh","type":"quantitative"},"y2":{"field":"ya"}}},
          {"mark":{"type":"rule","stroke":"#333333","strokeWidth":3,"strokeCap":"square"},"encoding":{"x":{"field":"xb","type":"quantitative","scale":{"domain":[0.2128,7.5795],"nice":false,"zero":false},"axis":null},"y":{"field":"yh","type":"quantitative"},"y2":{"field":"yb"}}},
          {"mark":{"type":"text","fontSize":26,"color":"#333333","baseline":"alphabetic","align":"center"},"encoding":{"x":{"field":"tx","type":"quantitative","scale":{"domain":[0.2128,7.5795],"nice":false,"zero":false},"axis":null},"y":{"field":"ty","type":"quantitative"},"text":{"field":"label"}}},
          {"mark":{"type":"text","fontSize":34,"fontWeight":"bold","color":"#222222","baseline":"top","align":"left"},"encoding":{"x":{"field":"lx","type":"quantitative","scale":{"domain":[0.2128,7.5795],"nice":false,"zero":false},"axis":null},"y":{"field":"ly","type":"quantitative"},"text":{"field":"letter"}}}
         ]}
        ],
        "resolve":{"scale":{"x":"independent"}}
       }
      ],
      "spacing":130,
      "bounds":"flush",
      "resolve":{"scale":{"fill":"independent"},"legend":{"fill":"independent"}}
     }
    ],
    "spacing":58,
    "bounds":"flush",
    "resolve":{"scale":{"fill":"independent"},"legend":{"fill":"independent"}}
   }
  ],
  "spacing":141,
  "bounds":"flush",
  "resolve":{"scale":{"fill":"independent"},"legend":{"fill":"independent"}}
 }
],
"spacing":92,
"bounds":"flush",
"resolve":{"scale":{"fill":"independent"},"legend":{"fill":"independent"}}
}
